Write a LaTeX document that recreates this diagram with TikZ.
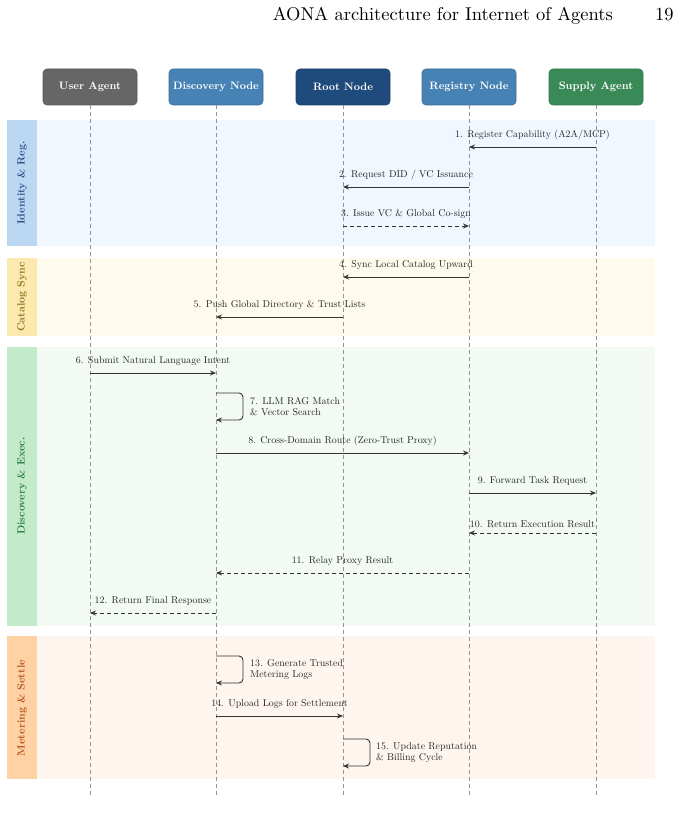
\documentclass[tikz,border=0pt]{standalone}
\usetikzlibrary{arrows.meta,calc}
\definecolor{cua}{HTML}{666666}
\definecolor{cdn}{HTML}{4682B4}
\definecolor{crn}{HTML}{1F4A7C}
\definecolor{csa}{HTML}{3A8A58}
\definecolor{bIdS}{HTML}{BCD7F2}\definecolor{bIdB}{HTML}{F0F7FF}\definecolor{bIdT}{HTML}{2B5288}
\definecolor{bCaS}{HTML}{FBE9AE}\definecolor{bCaB}{HTML}{FFFBEC}\definecolor{bCaT}{HTML}{957323}
\definecolor{bDiS}{HTML}{C4EBC9}\definecolor{bDiB}{HTML}{F2FAF3}\definecolor{bDiT}{HTML}{2F7D47}
\definecolor{bMeS}{HTML}{FFD2A6}\definecolor{bMeB}{HTML}{FEF5EF}\definecolor{bMeT}{HTML}{B4561C}
\definecolor{msgc}{HTML}{333333}
\tikzset{
 actor/.style={rounded corners=4pt, minimum width=94pt, minimum height=36pt, inner sep=0pt,
   text=white, font=\fontsize{10.8}{12}\selectfont\bfseries, draw=#1!85!black, fill=#1, line width=0.6pt},
 life/.style={draw=gray!85, dashed, dash pattern=on 4pt off 3pt, line width=0.7pt},
 msg/.style={draw=msgc, line width=0.9pt, -{Stealth[length=6pt,width=5pt]}},
 rmsg/.style={msg, dashed, dash pattern=on 4pt off 3pt},
 mlab/.style={font=\fontsize{9.9}{11}\selectfont, text=black!85, inner sep=0pt},
 blab/.style={font=\fontsize{10.5}{12}\selectfont\bfseries, rotate=90},
 hdrtxt/.style={font=\fontsize{10}{12}\selectfont, scale=1.85, inner sep=0pt},
}
\begin{document}
\begin{tikzpicture}[x=1pt,y=-1pt]
\useasboundingbox (0,0) rectangle (682,837);
% header
\node[hdrtxt, anchor=base west] (hdr) at (272.5,20.5) {AONA architecture for Internet of Agents};
\node[hdrtxt, anchor=base east] (pg) at (674,20.5) {19};
% bands
\fill[bIdB] (7,120) rectangle (655,246);
\fill[bIdS] (7,120) rectangle (37,246);
\node[blab, text=bIdT] (lid) at (22,183) {Identity \& Reg.};
\fill[bCaB] (7,258) rectangle (655,336);
\fill[bCaS] (7,258) rectangle (37,336);
\node[blab, text=bCaT] (lca) at (22,297) {Catalog Sync};
\fill[bDiB] (7,347) rectangle (655,626);
\fill[bDiS] (7,347) rectangle (37,626);
\node[blab, text=bDiT] (ldi) at (22,486) {Discovery \& Exec.};
\fill[bMeB] (7,636) rectangle (655,779);
\fill[bMeS] (7,636) rectangle (37,779);
\node[blab, text=bMeT] (lme) at (22,708) {Metering \& Settle};
% actors
\node[actor=cua] (ua) at (90,87) {User Agent};
\node[actor=cdn] (dn) at (216,87) {Discovery Node};
\node[actor=crn] (rn) at (343,87) {Root Node};
\node[actor=cdn] (rg) at (469,87) {Registry Node};
\node[actor=csa] (sa) at (596,87) {Supply Agent};
% lifelines
\foreach \a in {ua,dn,rn,rg,sa}{
  \coordinate (\a-end) at ($(\a.south)+(0,690)$);
  \draw[life] (\a.south) -- (\a-end);
}
% messages
\draw[msg] (sa |- 0,147) -- node[mlab, midway, above=7pt] {1. Register Capability (A2A/MCP)} (rg |- 0,147);
\draw[msg] (rg |- 0,187) -- node[mlab, midway, above=7pt] {2. Request DID / VC Issuance} (rn |- 0,187);
\draw[rmsg] (rn |- 0,226) -- node[mlab, midway, above=7pt] {3. Issue VC \& Global Co-sign} (rg |- 0,226);
\draw[msg] (rg |- 0,277) -- node[mlab, midway, above=7pt] {4. Sync Local Catalog Upward} (rn |- 0,277);
\draw[msg] (rn |- 0,317) -- node[mlab, midway, above=7pt] {5. Push Global Directory \& Trust Lists} (dn |- 0,317);
\draw[msg] (ua |- 0,373) -- node[mlab, midway, above=7pt] {6. Submit Natural Language Intent} (dn |- 0,373);
\draw[msg, rounded corners=4pt] (dn |- 0,393) -- ++(27,0) -- ++(0,27) -- (dn |- 0,420);
\node[mlab, anchor=west, align=left] (l7) at (250,406.5) {7. LLM RAG Match\\\& Vector Search};
\draw[msg] (dn |- 0,453) -- node[mlab, midway, above=7pt] {8. Cross-Domain Route (Zero-Trust Proxy)} (rg |- 0,453);
\draw[msg] (rg |- 0,493) -- node[mlab, midway, above=7pt] {9. Forward Task Request} (sa |- 0,493);
\draw[rmsg] (sa |- 0,533) -- node[mlab, midway, above=5pt] {10. Return Execution Result} (rg |- 0,533);
\draw[rmsg] (rg |- 0,573) -- node[mlab, midway, above=7pt] {11. Relay Proxy Result} (dn |- 0,573);
\draw[rmsg] (dn |- 0,613) -- node[mlab, midway, above=7pt] {12. Return Final Response} (ua |- 0,613);
\draw[msg, rounded corners=4pt] (dn |- 0,656) -- ++(27,0) -- ++(0,27) -- (dn |- 0,683);
\node[mlab, anchor=west, align=left] (l13) at (250,669.5) {13. Generate Trusted\\Metering Logs};
\draw[msg] (dn |- 0,716) -- node[mlab, midway, above=7pt] {14. Upload Logs for Settlement} (rn |- 0,716);
\draw[msg, rounded corners=4pt] (rn |- 0,739) -- ++(27,0) -- ++(0,27) -- (rn |- 0,766);
\node[mlab, anchor=west, align=left] (l15) at (376,752.5) {15. Update Reputation\\\& Billing Cycle};
\end{tikzpicture}
\end{document}
